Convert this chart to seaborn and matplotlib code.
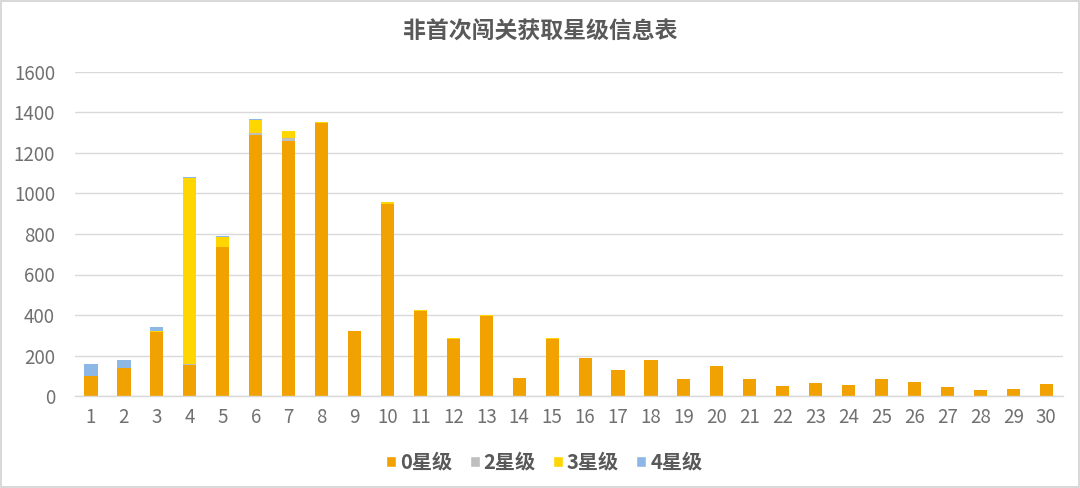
import numpy as np
import pandas as pd
import seaborn as sns
import matplotlib.pyplot as plt
from matplotlib.patches import Patch

# 关卡 1..30, 每个星级的次数
levels = [str(i) for i in range(1, 31)]
star0 = [100, 140, 315, 153, 737, 1290, 1260, 1350, 320, 950,
         420, 283, 395, 88, 283, 188, 128, 176, 86, 148,
         83, 50, 66, 54, 86, 69, 46, 31, 36, 59]
star2 = [0, 0, 0, 5, 0, 10, 15, 0, 0, 0,
         0, 0, 0, 0, 0, 0, 0, 0, 0, 0,
         0, 0, 0, 0, 0, 0, 0, 0, 0, 0]
star3 = [0, 0, 8, 920, 47, 62, 35, 3, 3, 7,
         3, 2, 3, 0, 2, 0, 0, 0, 0, 0,
         0, 0, 0, 0, 0, 0, 0, 0, 0, 0]
star4 = [58, 36, 16, 4, 6, 5, 0, 0, 0, 0,
         0, 0, 0, 0, 0, 0, 0, 0, 0, 0,
         0, 0, 0, 0, 0, 0, 0, 0, 0, 0]
series_names = ["0星级", "2星级", "3星级", "4星级"]
colors = ["#F2A200", "#BFBFBF", "#FFD600", "#8DB8E6"]

sns.set_theme(style="white")
plt.rcParams['font.family'] = ['Noto Sans CJK SC', 'DejaVu Sans']

fig = plt.figure(figsize=(10.8, 4.88), dpi=100)
fig.patch.set_edgecolor('#d9d9d9')
fig.patch.set_linewidth(1.5)
ax = fig.add_axes([0.069, 0.1885, 0.915, 0.664])

df = pd.DataFrame({"level": levels, "0星级": star0, "2星级": star2,
                   "3星级": star3, "4星级": star4})
bottom = np.zeros(len(levels))
for name, c in zip(series_names, colors):
    sns.barplot(data=df, x="level", y=name, color=c, bottom=bottom,
                width=0.4, saturation=1, ax=ax, linewidth=0)
    bottom = bottom + df[name].values

ax.set_xlim(-0.5, 29.5)
ax.set_ylim(0, 1600)
ax.set_yticks(range(0, 1601, 200))
ax.yaxis.grid(True, color='#d9d9d9', linewidth=1)
ax.set_axisbelow(True)
for s in ['top', 'right', 'left']:
    ax.spines[s].set_visible(False)
ax.spines['bottom'].set_color('#d9d9d9')
ax.spines['bottom'].set_linewidth(1)
ax.set_xlabel("")
ax.set_ylabel("")
ax.tick_params(axis='both', length=0, labelsize=13.5, colors='#707070')
ax.tick_params(axis='y', pad=14)
ax.tick_params(axis='x', pad=8)

fig.text(0.5, 0.933, "非首次闯关获取星级信息表", ha='center', va='center',
         fontsize=16.5, fontweight='bold', color='#595959')

handles = [Patch(facecolor=c, label=n) for n, c in zip(series_names, colors)]
fig.legend(handles=handles, loc='center', bbox_to_anchor=(0.504, 0.053),
           ncol=4, frameon=False, labelcolor='#595959',
           prop={'size': 14.5, 'weight': 'bold'},
           handlelength=0.5, handleheight=0.5, handletextpad=0.2,
           columnspacing=0.85)

fig.savefig("out.png", dpi=100)
